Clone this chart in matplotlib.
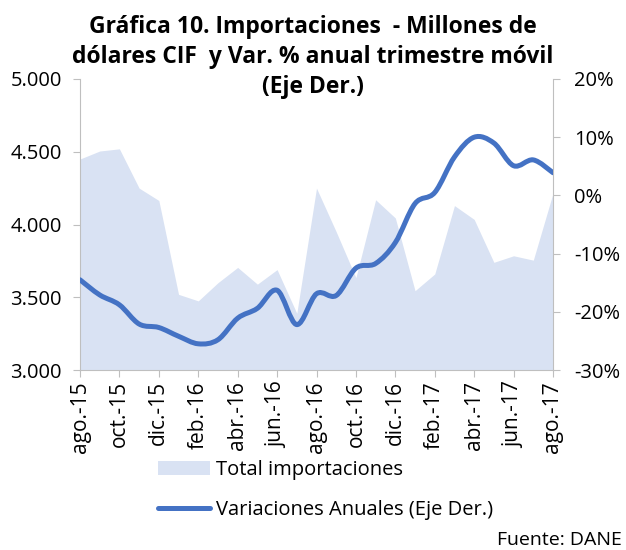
import matplotlib
matplotlib.use("Agg")
import matplotlib.pyplot as plt
from matplotlib.path import Path
from matplotlib.patches import PathPatch, Patch
from matplotlib.lines import Line2D
from matplotlib.ticker import FuncFormatter
import numpy as np

months = ["ago.-15", "sep.-15", "oct.-15", "nov.-15", "dic.-15", "ene.-16", "feb.-16",
          "mar.-16", "abr.-16", "may.-16", "jun.-16", "jul.-16", "ago.-16", "sep.-16",
          "oct.-16", "nov.-16", "dic.-16", "ene.-17", "feb.-17", "mar.-17", "abr.-17",
          "may.-17", "jun.-17", "jul.-17", "ago.-17"]
imports = [4450, 4505, 4520, 4250, 4165, 3520, 3475, 3600, 3705, 3590, 3690, 3390, 4250,
           3950, 3635, 4170, 4045, 3545, 3660, 4130, 4035, 3740, 3785, 3755, 4215]
variation = [-14.5, -17.1, -18.8, -22.1, -22.7, -24.2, -25.5, -24.8, -21.1, -19.4, -16.3,
             -22.2, -16.9, -17.2, -12.5, -11.7, -8.1, -1.4, 0.5, 6.6, 10.0, 9.0, 5.1, 6.1, 3.9]
title_lines = ["Gráfica 10. Importaciones  - Millones de",
               "dólares CIF  y Var. % anual trimestre móvil",
               "(Eje Der.)"]

FONT = ["Open Sans", "DejaVu Sans"]
plt.rcParams["font.family"] = FONT

fig = plt.figure(figsize=(6.26, 5.5), dpi=100)
ax = fig.add_axes([80/626, 1-370/550, (553-80)/626, (370-79)/550])
ax2 = ax.twinx()

x = np.arange(len(months))
area_color = "#D9E2F3"
line_color = "#4472C4"
ax.fill_between(x, 3000, imports, color=area_color, linewidth=0, zorder=1)

# smoothed line (Excel-style) drawn as Bezier path in data coordinates
pts = np.column_stack([x, variation]).astype(float)
verts = [tuple(pts[0])]
codes = [Path.MOVETO]
n = len(pts)
for i in range(n - 1):
    p0 = pts[i - 1] if i > 0 else pts[i]
    p1 = pts[i]
    p2 = pts[i + 1]
    p3 = pts[i + 2] if i + 2 < n else pts[i + 1]
    c1 = p1 + (p2 - p0) / 6.0
    c2 = p2 - (p3 - p1) / 6.0
    verts += [tuple(c1), tuple(c2), tuple(p2)]
    codes += [Path.CURVE4] * 3
ax2.add_patch(PathPatch(Path(verts, codes), facecolor="none", edgecolor=line_color,
                        linewidth=3.6, capstyle="round", joinstyle="round", zorder=3))

ax.set_xlim(0, len(months) - 1)
ax.set_ylim(3000, 5000)
ax2.set_ylim(-30, 20)

ax.set_yticks([3000, 3500, 4000, 4500, 5000])
ax.yaxis.set_major_formatter(FuncFormatter(lambda v, p: f"{int(v):,}".replace(",", ".")))
ax2.set_yticks([-30, -20, -10, 0, 10, 20])
ax2.yaxis.set_major_formatter(FuncFormatter(lambda v, p: f"{int(v)}%"))

ax.set_xticks(x[::2])
ax.set_xticklabels(months[::2], rotation=90)

spine_c = "#BFBFBF"
for a in (ax, ax2):
    a.spines["top"].set_visible(False)
    a.spines["left"].set_color(spine_c)
    a.spines["right"].set_color(spine_c)
    a.spines["bottom"].set_color(spine_c)
ax2.spines["left"].set_visible(False)
ax2.spines["bottom"].set_visible(False)
ax.spines["right"].set_visible(False)

ax.tick_params(axis="y", length=5, color=spine_c, labelsize=14.5, pad=8, labelcolor="#000000")
ax2.tick_params(axis="y", length=5, color=spine_c, labelsize=14.5, pad=10, labelcolor="#000000")
ax.tick_params(axis="x", length=5, color=spine_c, labelsize=15, pad=3, labelcolor="#000000")

for i, (line, yb) in enumerate(zip(title_lines, [33, 63, 93])):
    fig.text(313/626, 1-yb/550, line, ha="center", va="baseline",
             fontsize=16.5, fontweight="bold")

handles = [Patch(facecolor=area_color, edgecolor="none"),
           Line2D([0], [0], color=line_color, linewidth=3.6, solid_capstyle="round")]
fig.legend(handles, ["Total importaciones", "Variaciones Anuales (Eje Der.)"],
           loc="upper left", bbox_to_anchor=(158/626, 1-460/550), frameon=False,
           fontsize=14.5, handlelength=2.6, handletextpad=0.3, labelspacing=1.0,
           borderaxespad=0, borderpad=0)

fig.text(622/626, 1-540/550, "Fuente: DANE", ha="right", va="center", fontsize=14)

fig.savefig("out.png", dpi=100)
